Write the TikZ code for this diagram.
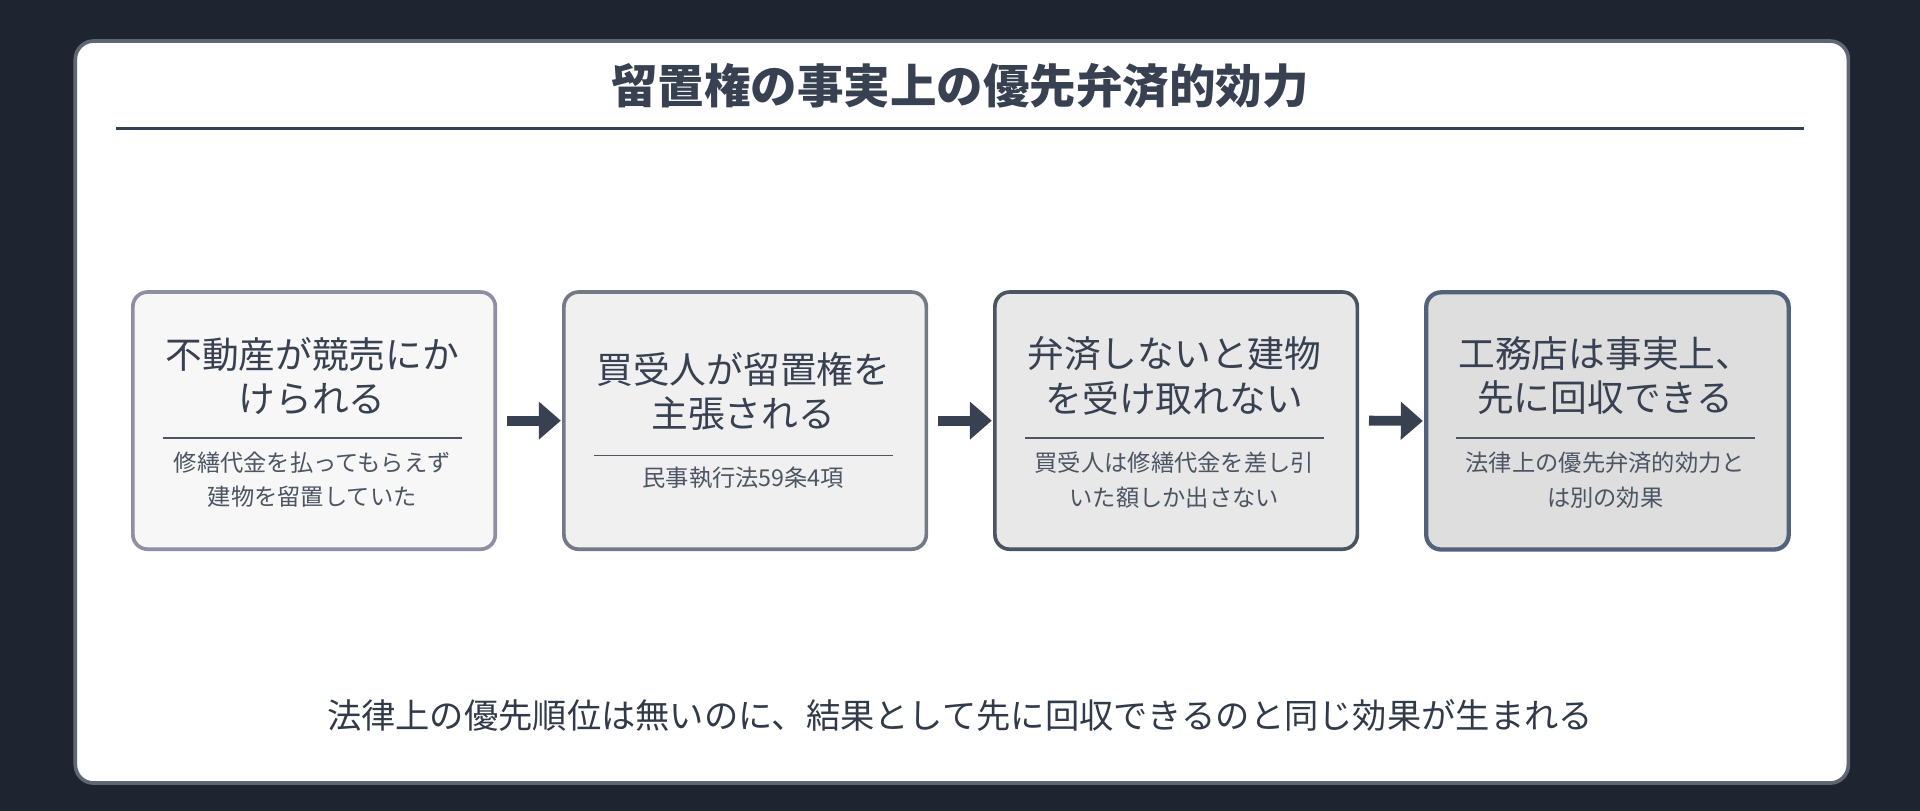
\documentclass[tikz,border=0pt]{standalone}
\usepackage{fontspec}
\setmainfont{Noto Sans CJK JP}
\usetikzlibrary{arrows.meta}
\definecolor{bg}{HTML}{1E2430}
\definecolor{ink}{HTML}{374151}
\definecolor{sub}{HTML}{4B5563}
\tikzset{
 box/.style={draw, rounded corners=12pt, line width=3pt, minimum width=296pt, minimum height=210pt, anchor=north west},
 main/.style={font=\fontsize{30}{36}\selectfont, text=ink, align=center},
 subt/.style={font=\fontsize{19}{28}\selectfont, text=sub, align=center},
 arr/.style={-{Triangle[length=18pt,width=30pt]}, line width=8pt, draw=ink, shorten >=0pt},
 div/.style={draw=sub, line width=1.5pt}
}
\begin{document}
\begin{tikzpicture}[x=1pt,y=-1pt]
\useasboundingbox (0,0) rectangle (1568,662.2);
\fill[bg] (0,0) rectangle (1568,662.2);
\node[draw=ink!80, fill=white, line width=3pt, rounded corners=15pt, minimum width=1448pt, minimum height=606pt, anchor=north west] (card) at (60,32) {};
\node[font=\fontsize{38}{44}\selectfont\bfseries, text=ink] (title) at (784,70) {留置権の事実上の優先弁済的効力};
\draw[ink, line width=2pt] (95,105) coordinate (t1) -- (1473,105) coordinate (t2);
\node[box, draw=gray!90!blue!80, fill=gray!6] (b1) at (107,237) {};
\node[box, draw=ink!70, fill=gray!12] (b2) at (459,237) {};
\node[box, draw=ink!90, fill=gray!18] (b3) at (811,237) {};
\node[box, draw=ink!150!black, fill=gray!26, line width=3.5pt] (b4) at (1163,237) {};
% box1
\node[main] (m1) at (255,307) {不動産が競売にか\\けられる};
\draw[div] (133,358) -- (377,358);
\node[subt] (s1) at (255,392) {修繕代金を払ってもらえず\\建物を留置していた};
% box2
\node[main] (m2) at (607,320) {買受人が留置権を\\主張される};
\draw[div] (485,372) -- (729,372);
\node[subt] (s2) at (607,390) {民事執行法59条4項};
% box3
\node[main] (m3) at (959,307) {弁済しないと建物\\を受け取れない};
\draw[div] (837,358) -- (1081,358);
\node[subt] (s3) at (959,392) {買受人は修繕代金を差し引\\いた額しか出さない};
% box4
\node[main] (m4) at (1311,307) {工務店は事実上、\\先に回収できる};
\draw[div] (1189,358) -- (1433,358);
\node[subt] (s4) at (1311,392) {法律上の優先弁済的効力と\\は別の効果};
\draw[arr] ([xshift=8pt]b1.east) -- ([xshift=-1pt]b2.west);
\draw[arr] ([xshift=8pt]b2.east) -- ([xshift=-1pt]b3.west);
\draw[arr] ([xshift=8pt]b3.east) -- ([xshift=-1pt]b4.west);
\node[font=\fontsize{28}{34}\selectfont, text=ink!90!black] (bot) at (784,584) {法律上の優先順位は無いのに、結果として先に回収できるのと同じ効果が生まれる};
\end{tikzpicture}
\end{document}
